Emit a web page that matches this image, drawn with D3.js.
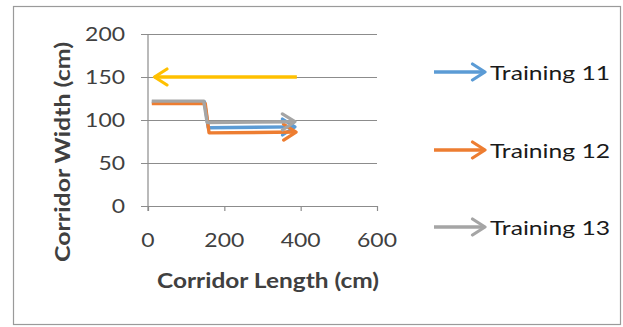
<!DOCTYPE html>
<html>
<head>
<meta charset="utf-8">
<script src="https://cdn.jsdelivr.net/npm/d3@7"></script>
<style>
  html, body { margin: 0; padding: 0; background: #fff; }
  svg { display: block; }
  text { font-family: Lato, "Open Sans", sans-serif; }
</style>
</head>
<body>
<svg id="chart" width="623" height="327"></svg>
<script>
// Corridor measurements: [length (cm), width (cm)]
const training11 = [[10, 121], [148, 121], [158, 91], [385, 92]];
const training12 = [[10, 119], [150, 119], [160, 85], [388, 86]];
const training13 = [[10, 122], [146, 122], [155, 97], [385, 98]];
const returnRun  = [[390, 150], [17, 150]];

const seriesNames  = ["Training 11", "Training 12", "Training 13"];
const xTicks = [0, 200, 400, 600];
const yTicks = [0, 50, 100, 150, 200];

const series = [
  { name: seriesNames[0], values: training11, color: "#5B9BD5", legend: true },
  { name: seriesNames[1], values: training12, color: "#ED7D31", legend: true },
  { name: seriesNames[2], values: training13, color: "#A5A5A5", legend: true },
  { name: "return", values: returnRun, color: "#FFC000", legend: false }
];

const svg = d3.select("#chart");

// outer chart frame
svg.append("rect")
  .attr("x", 13.5).attr("y", 6.5)
  .attr("width", 607).attr("height", 318)
  .attr("fill", "#fff").attr("stroke", "#9a9a9a").attr("stroke-width", 1.2);

const x = d3.scaleLinear().domain([0, 600]).range([148, 377]);
const y = d3.scaleLinear().domain([0, 200]).range([206, 34]);

// open arrowhead markers, one per colour
const defs = svg.append("defs");
series.forEach((s, i) => {
  defs.append("marker")
    .attr("id", "arrow" + i)
    .attr("markerUnits", "userSpaceOnUse")
    .attr("viewBox", "-16 -10 18 20")
    .attr("refX", 0).attr("refY", 0)
    .attr("markerWidth", 18).attr("markerHeight", 20)
    .attr("orient", "auto")
    .append("path")
    .attr("d", "M-12.5,-8 L0,0 L-12.5,8")
    .attr("fill", "none")
    .attr("stroke", s.color)
    .attr("stroke-width", 3.2)
    .attr("stroke-linecap", "round")
    .attr("stroke-linejoin", "round");
});

// horizontal gridlines (with short outside ticks on the left)
svg.append("g")
  .attr("transform", "translate(141,0)")
  .call(d3.axisLeft(y).tickValues(yTicks).tickSize(-(377 - 141)).tickFormat(""))
  .call(g => g.select(".domain").remove())
  .call(g => g.selectAll("line").attr("stroke", "#8c8c8c").attr("stroke-width", 1.2));

// vertical axis line
svg.append("line")
  .attr("x1", x(0)).attr("x2", x(0))
  .attr("y1", y(200)).attr("y2", y(0) + 5)
  .attr("stroke", "#8c8c8c").attr("stroke-width", 1.2);

// x axis with downward tick marks
const xAxis = svg.append("g")
  .attr("transform", `translate(0,${y(0)})`)
  .call(d3.axisBottom(x).tickValues(xTicks).tickSize(5).tickSizeOuter(0).tickFormat(""));
xAxis.select(".domain").attr("stroke", "#8c8c8c").attr("stroke-width", 1.2);
xAxis.selectAll("line").attr("stroke", "#8c8c8c").attr("stroke-width", 1.2);

// tick labels
const labelW = v => String(v).length * 13.3;
svg.append("g").selectAll("text")
  .data(yTicks).join("text")
  .attr("x", 125).attr("y", d => y(d) + 7)
  .attr("text-anchor", "end")
  .attr("font-size", 20)
  .attr("fill", "#404040")
  .attr("textLength", labelW).attr("lengthAdjust", "spacingAndGlyphs")
  .text(d => d);

svg.append("g").selectAll("text")
  .data(xTicks).join("text")
  .attr("x", d => x(d)).attr("y", 247)
  .attr("text-anchor", "middle")
  .attr("font-size", 20)
  .attr("fill", "#404040")
  .attr("textLength", labelW).attr("lengthAdjust", "spacingAndGlyphs")
  .text(d => d);

// axis titles
svg.append("text")
  .attr("x", 268).attr("y", 288)
  .attr("text-anchor", "middle")
  .attr("font-size", 20).attr("font-weight", "bold")
  .attr("fill", "#404040")
  .attr("textLength", 222).attr("lengthAdjust", "spacingAndGlyphs")
  .text("Corridor Length (cm)");

svg.append("text")
  .attr("transform", "translate(70,152) rotate(-90)")
  .attr("text-anchor", "middle")
  .attr("font-size", 20).attr("font-weight", "bold")
  .attr("fill", "#404040")
  .attr("textLength", 220).attr("lengthAdjust", "spacingAndGlyphs")
  .text("Corridor Width (cm)");

// data paths
const line = d3.line().x(d => x(d[0])).y(d => y(d[1]));
svg.append("g").selectAll("path")
  .data(series).join("path")
  .attr("d", d => line(d.values))
  .attr("fill", "none")
  .attr("stroke", d => d.color)
  .attr("stroke-width", 3.4)
  .attr("stroke-linejoin", "round")
  .attr("marker-end", (d, i) => `url(#arrow${i})`);

// legend
const legendRows = [72, 150, 227];
const legend = svg.append("g").selectAll("g")
  .data(series.filter(s => s.legend)).join("g")
  .attr("transform", (d, i) => `translate(0,${legendRows[i]})`);

legend.append("line")
  .attr("x1", 434).attr("x2", 485)
  .attr("y1", 0).attr("y2", 0)
  .attr("stroke", d => d.color).attr("stroke-width", 3.4)
  .attr("marker-end", d => `url(#arrow${series.indexOf(d)})`);

legend.append("text")
  .attr("x", 490).attr("y", 8)
  .attr("font-size", 20)
  .attr("fill", "#1a1a1a")
  .attr("textLength", 120).attr("lengthAdjust", "spacingAndGlyphs")
  .text(d => d.name);
</script>
</body>
</html>
